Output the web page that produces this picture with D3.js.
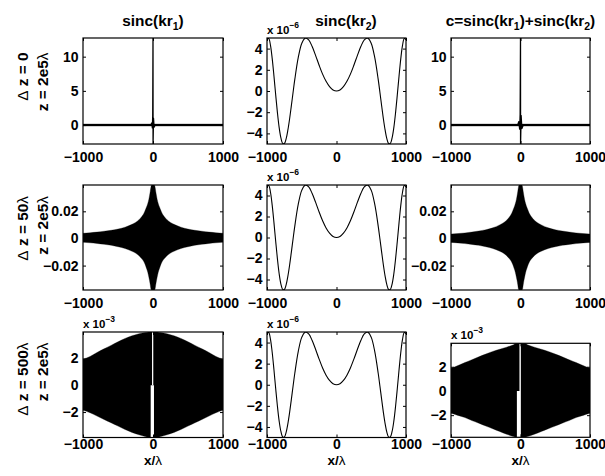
<!DOCTYPE html>
<html><head><meta charset="utf-8">
<script src="https://cdn.jsdelivr.net/npm/d3@7"></script>
<style>body{margin:0;background:#fff} svg{display:block}</style>
</head><body><svg id="c" width="605" height="476"></svg>
<script>
// ---------------- DATA ----------------
const xDomain = [-1000, 1000];
const xTickValues = [-1000, 0, 1000];

const columnTitles = [["sinc(kr","1",")"], ["sinc(kr","2",")"], ["c=sinc(kr","1",")+sinc(kr","2",")"]];
const rowDeltaZ = ["0", "50", "500"];          // Δ z = ... λ
const rowZ = "2e5";                              // z = 2e5λ

// Row 1 (Δz = 0): spike at x = 0 on a flat zero line
const r1c1X = [-1000, -30, -18, -9, -4, 0, 1, 7, 16, 30, 1000];
const r1c1Y = [0, 0, 0.3, -0.4, 1.3, 12.73, -2.77, 1.0, -0.3, 0, 0];
const r1c3X = [-1000, -40, -25, -12, -5, 0, 1, 9, 20, 40, 1000];
const r1c3Y = [0, 0, 0.5, -0.6, 1.6, 12.73, -2.77, 1.4, -0.5, 0, 0];
const r1BandX = [-1000, 1000];
const r1BandHi = [0.15, 0.15];
const r1BandLo = [-0.15, -0.15];

// Middle column: sinc(kr2), values in units of 1e-6
const midX = [-1000,-975,-950,-925,-900,-875,-850,-825,-800,-775,-750,-725,-700,-675,-650,-625,-600,
  -550,-500,-450,-400,-350,-300,-250,-200,-150,-100,-50,0,50,100,150,200,250,300,350,400,450,500,550,
  600,625,650,675,700,725,750,775,800,825,850,875,900,925,950,975,1000];
const midY = [4.83,4.95,4.31,3.06,1.42,-0.36,-2.04,-3.45,-4.43,-4.94,-4.95,-4.51,-3.70,-2.64,-1.41,-0.14,1.09,
  3.17,4.49,4.99,4.82,4.19,3.34,2.43,1.59,0.91,0.41,0.10,0,0.10,0.41,0.91,1.59,2.43,3.34,4.19,4.82,4.99,4.49,3.17,
  1.09,-0.14,-1.41,-2.64,-3.70,-4.51,-4.95,-4.94,-4.43,-3.45,-2.04,-0.36,1.42,3.06,4.31,4.95,4.83];

// Row 2 (Δz = 50λ): envelope of the dense oscillation
const env2X = [-1000,-900,-800,-700,-600,-500,-400,-300,-250,-200,-160,-130,-110,-90,-75,-60,-50,-40,-30,-20,0,
  20,30,40,50,60,75,90,110,130,160,200,250,300,400,500,600,700,800,900,1000];
const r2c1Hi = [0.0038,0.0042,0.0047,0.0053,0.0060,0.0069,0.0083,0.0104,0.0118,0.0138,0.0162,0.0185,0.0210,0.0235,0.0258,0.0288,0.0315,0.0345,0.0378,0.0394,0.0394,
  0.0394,0.0378,0.0345,0.0315,0.0288,0.0258,0.0235,0.0210,0.0185,0.0162,0.0138,0.0118,0.0104,0.0083,0.0069,0.0060,0.0053,0.0047,0.0042,0.0038];
const r2c1Lo = [-0.0028,-0.0032,-0.0037,-0.0043,-0.0050,-0.0061,-0.0074,-0.0095,-0.0108,-0.0128,-0.0150,-0.0172,-0.0195,-0.0225,-0.0250,-0.0285,-0.0310,-0.0340,-0.0372,-0.0380,-0.0380,
  -0.0380,-0.0372,-0.0340,-0.0310,-0.0285,-0.0250,-0.0225,-0.0195,-0.0172,-0.0150,-0.0128,-0.0108,-0.0095,-0.0074,-0.0061,-0.0050,-0.0043,-0.0037,-0.0032,-0.0028];
const r2c3Hi = [0.0032,0.0036,0.0041,0.0047,0.0055,0.0064,0.0078,0.0100,0.0114,0.0134,0.0158,0.0182,0.0206,0.0232,0.0255,0.0286,0.0313,0.0344,0.0378,0.0394,0.0394,
  0.0394,0.0378,0.0344,0.0313,0.0286,0.0255,0.0232,0.0206,0.0182,0.0158,0.0134,0.0114,0.0100,0.0078,0.0064,0.0055,0.0047,0.0041,0.0036,0.0032];
const r2c3Lo = [-0.0029,-0.0033,-0.0038,-0.0044,-0.0051,-0.0061,-0.0074,-0.0094,-0.0107,-0.0127,-0.0149,-0.0171,-0.0194,-0.0224,-0.0249,-0.0284,-0.0309,-0.0339,-0.0372,-0.0380,-0.0380,
  -0.0380,-0.0372,-0.0339,-0.0309,-0.0284,-0.0249,-0.0224,-0.0194,-0.0171,-0.0149,-0.0127,-0.0107,-0.0094,-0.0074,-0.0061,-0.0051,-0.0044,-0.0038,-0.0033,-0.0029];

// Row 3 (Δz = 500λ): envelope, units of 1e-3
const env3X = [-1000,-900,-800,-700,-600,-500,-400,-300,-200,-100,-60,0,60,100,200,300,400,500,600,700,800,900,1000];
const r3c1Hi = [1.95,2.15,2.45,2.72,2.98,3.25,3.50,3.70,3.85,3.95,3.98,3.98,3.98,3.95,3.85,3.70,3.50,3.25,2.98,2.72,2.45,2.15,1.95];
const r3c1Lo = [-1.87,-2.05,-2.30,-2.55,-2.80,-3.05,-3.30,-3.52,-3.70,-3.85,-3.90,-3.90,-3.90,-3.85,-3.70,-3.52,-3.30,-3.05,-2.80,-2.55,-2.30,-2.05,-1.87];
const r3c3Hi = [1.87,2.10,2.35,2.58,2.82,3.05,3.27,3.45,3.62,3.82,3.94,3.94,3.94,3.82,3.62,3.45,3.27,3.05,2.82,2.58,2.35,2.10,1.87];
const r3c3Lo = [-1.84,-2.02,-2.20,-2.45,-2.66,-2.90,-3.12,-3.35,-3.58,-3.77,-3.83,-3.83,-3.83,-3.77,-3.58,-3.35,-3.12,-2.90,-2.66,-2.45,-2.20,-2.02,-1.84];
// white gaps near x = 0 (upper half / lower half)
const r3c1GapUpX = [-14, 4];
const r3c1GapLoX = [-33, 14];
const r3c3GapUpX = [-15, 5];
const r3c3GapLoX = [-52, 5];

// y tick labels / domains
const yTicksRow1 = [0, 5, 10];
const yTicksRow2 = [-0.02, 0, 0.02];
const yTicksRow3 = [-2, 0, 2];
const yTicksMid = [-4, -2, 0, 2, 4];
const yDomRow1 = [-2.77, 12.73];
const yDomRow2 = [-0.038, 0.0394];
const yDomR3C1 = [-3.9, 3.98];
const yDomR3C3 = [-3.83, 3.94];
const yDomMid = [-5, 5];

// ---------------- LAYOUT ----------------
const colLeft = [83, 267, 451];
const colW = [140, 139, 139];
const rowTop = [38, 185, 332];
const rowH = [106, 105, 105.5];
const titleX = [153, 346, 520.5];
const FONT = "'Liberation Sans', Arial, Helvetica, sans-serif";

const svg = d3.select("#c").attr("font-family", FONT);
svg.append("rect").attr("width", 605).attr("height", 476).attr("fill", "#fff");

const zipArea = (xs, hi, lo) => xs.map((x, i) => ({x, hi: hi[i], lo: lo[i]}));
const zipLine = (xs, ys) => xs.map((x, i) => ({x, y: ys[i]}));
const fmt = d => d < 0 ? "\u2212" + String(Math.abs(d)) : String(d);

function panel(p) {
  const g = svg.append("g").attr("transform", `translate(${p.left},${p.top})`);
  const x = d3.scaleLinear().domain(xDomain).range([0, p.w]);
  const y = d3.scaleLinear().domain(p.yDomain).range([p.h, 0]);
  const cid = "clip" + p.id;
  g.append("clipPath").attr("id", cid).append("rect").attr("width", p.w).attr("height", p.h);
  const plot = g.append("g").attr("clip-path", `url(#${cid})`);

  for (const L of p.layers) {
    if (L.type === "area") {
      const ar = d3.area().x(d => x(d.x)).y0(d => y(d.lo)).y1(d => y(d.hi))
        .curve(L.curve || d3.curveMonotoneX);
      plot.append("path").datum(zipArea(L.x, L.hi, L.lo)).attr("d", ar)
        .attr("fill", L.fill || "#000").attr("stroke", L.fill || "#000").attr("stroke-width", 0.3);
    } else if (L.type === "line") {
      const ln = d3.line().x(d => x(d.x)).y(d => y(d.y)).curve(L.curve || d3.curveLinear);
      plot.append("path").datum(zipLine(L.x, L.y)).attr("d", ln)
        .attr("fill", "none").attr("stroke", "#000").attr("stroke-width", L.width || 1)
        .attr("stroke-linejoin", "round");
    } else if (L.type === "gap") {
      const ar = d3.area().x(d => x(d.x)).y0(d => y(d.lo)).y1(d => y(d.hi));
      plot.append("path").datum(zipArea(L.x, L.x.map(() => L.hi), L.x.map(() => L.lo)))
        .attr("d", ar).attr("fill", "#fff");
    }
  }

  const style = sel => {
    sel.attr("font-family", FONT).attr("font-size", 14).attr("font-weight", "bold");
    sel.select(".domain").remove();
    sel.selectAll(".tick line").attr("stroke", "#000").attr("stroke-width", 1);
    sel.selectAll(".tick text").attr("fill", "#000");
  };
  g.append("g").attr("transform", `translate(0,${p.h})`)
    .call(d3.axisBottom(x).tickValues(xTickValues).tickSize(-3).tickPadding(p.xPad).tickFormat(fmt)).call(style);
  g.append("g").call(d3.axisTop(x).tickValues(xTickValues).tickSize(-3).tickFormat("")).call(style);
  g.append("g").call(d3.axisLeft(y).tickValues(p.yTicks).tickSize(-3).tickPadding(4.5).tickFormat(fmt)).call(style);
  g.append("g").attr("transform", `translate(${p.w},0)`)
    .call(d3.axisRight(y).tickValues(p.yTicks).tickSize(-3).tickFormat("")).call(style);

  g.append("rect").attr("width", p.w).attr("height", p.h)
    .attr("fill", "none").attr("stroke", "#000").attr("stroke-width", 1.2);

  if (p.exp) {
    const t = g.append("text").attr("x", 0).attr("y", -4.5)
      .attr("font-size", 11.5).attr("font-weight", "bold").attr("fill", "#000");
    t.append("tspan").text("x 10");
    t.append("tspan").attr("dy", -6).attr("font-size", 8.5).text(p.exp);
  }
}

const layers = [
  [ // row 1
    [{type:"area", x:r1BandX, hi:r1BandHi, lo:r1BandLo, curve:d3.curveLinear},
     {type:"line", x:r1c1X, y:r1c1Y, width:1.3}],
    [{type:"line", x:midX, y:midY, width:1.1, curve:d3.curveCatmullRom}],
    [{type:"area", x:r1BandX, hi:r1BandHi, lo:r1BandLo, curve:d3.curveLinear},
     {type:"line", x:r1c3X, y:r1c3Y, width:1.3}]
  ],
  [ // row 2
    [{type:"area", x:env2X, hi:r2c1Hi, lo:r2c1Lo}],
    [{type:"line", x:midX, y:midY, width:1.1, curve:d3.curveCatmullRom}],
    [{type:"area", x:env2X, hi:r2c3Hi, lo:r2c3Lo}]
  ],
  [ // row 3
    [{type:"area", x:env3X, hi:r3c1Hi, lo:r3c1Lo},
     {type:"gap", x:r3c1GapUpX, hi:yDomR3C1[1], lo:0},
     {type:"gap", x:r3c1GapLoX, hi:0, lo:yDomR3C1[0]}],
    [{type:"line", x:midX, y:midY, width:1.1, curve:d3.curveCatmullRom}],
    [{type:"area", x:env3X, hi:r3c3Hi, lo:r3c3Lo},
     {type:"gap", x:r3c3GapUpX, hi:yDomR3C3[1], lo:0},
     {type:"gap", x:r3c3GapLoX, hi:0, lo:yDomR3C3[0]}]
  ]
];
const yDoms = [[yDomRow1, yDomMid, yDomRow1], [yDomRow2, yDomMid, yDomRow2], [yDomR3C1, yDomMid, yDomR3C3]];
const yTicks = [[yTicksRow1, yTicksMid, yTicksRow1], [yTicksRow2, yTicksMid, yTicksRow2], [yTicksRow3, yTicksMid, yTicksRow3]];
const exps = [[null, "\u22126", null], [null, "\u22126", null], ["\u22123", "\u22126", "\u22123"]];

for (let r = 0; r < 3; r++) {
  for (let c = 0; c < 3; c++) {
    let top = rowTop[r], h = rowH[r];
    if (r === 2 && c === 2) { top = 343.3; h = 94; }
    panel({id: `${r}${c}`, left: colLeft[c], top, w: colW[c], h,
      yDomain: yDoms[r][c], yTicks: yTicks[r][c], layers: layers[r][c], exp: exps[r][c],
      xPad: r === 2 ? 1.9 : 7.8});
  }
}

// Column titles
columnTitles.forEach((parts, c) => {
  const t = svg.append("text").attr("x", titleX[c]).attr("y", 26).attr("text-anchor", "middle")
    .attr("font-size", 15.4).attr("font-weight", "bold").attr("fill", "#000");
  parts.forEach((s, i) => {
    const sub = i % 2 === 1;
    t.append("tspan").attr("dy", i === 0 ? 0 : (sub ? 4 : -4)).attr("font-size", sub ? 10.5 : 15.4).text(s);
  });
});

// Row labels (rotated)
const labelTop = [52.5, 196, 342.5];
rowDeltaZ.forEach((dz, r) => {
  const t1 = svg.append("text").attr("transform", `translate(28,${labelTop[r]}) rotate(-90)`)
    .attr("text-anchor", "end").attr("font-size", 15.4).attr("font-weight", "bold").attr("fill", "#000");
  t1.append("tspan").attr("font-weight", "normal").text("\u0394");
  t1.append("tspan").text(" z = " + dz);
  if (dz !== "0") t1.append("tspan").attr("font-weight", "normal").text("\u03bb");
  const t2 = svg.append("text").attr("transform", `translate(48,${labelTop[r]}) rotate(-90)`)
    .attr("text-anchor", "end").attr("font-size", 15.4).attr("font-weight", "bold").attr("fill", "#000");
  t2.append("tspan").text("z = " + rowZ);
  t2.append("tspan").attr("font-weight", "normal").text("\u03bb");
});

// x labels
[0, 1, 2].forEach(c => {
  const cx = colLeft[c] + colW[c] / 2;
  const t = svg.append("text").attr("x", cx).attr("y", 464.6).attr("text-anchor", "middle")
    .attr("font-size", 13.5).attr("font-weight", "bold").attr("fill", "#000");
  t.append("tspan").text("x/");
  t.append("tspan").attr("font-weight", "normal").text("\u03bb");
});
</script>
</body></html>
